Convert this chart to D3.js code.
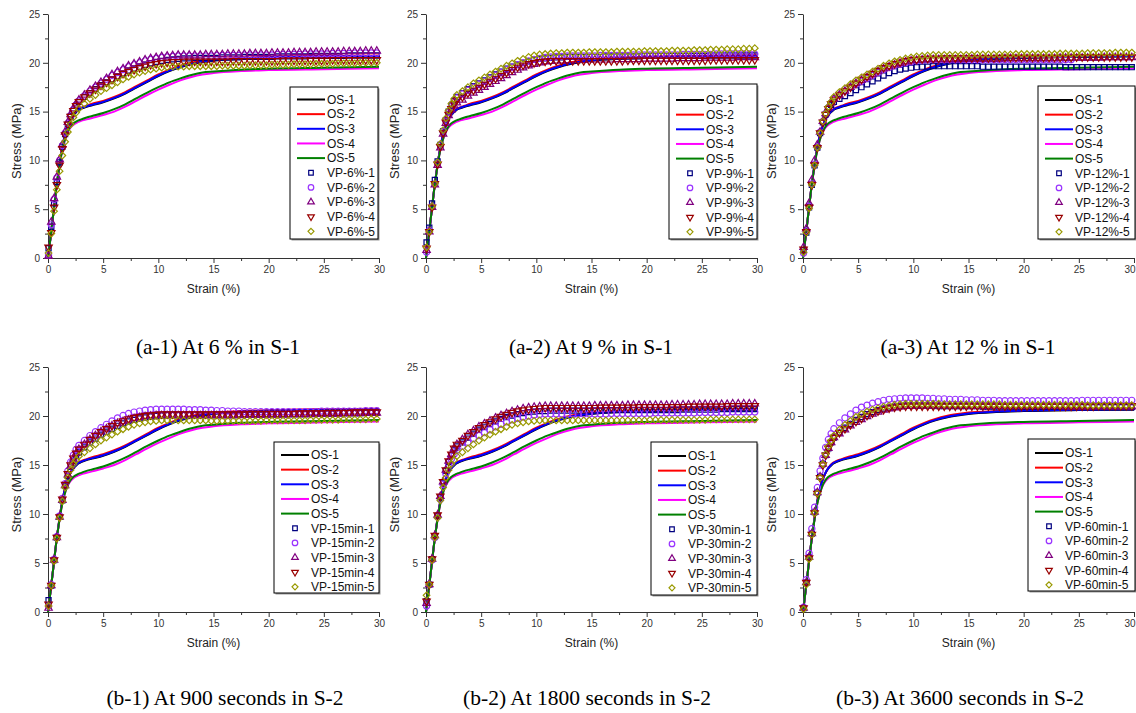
<!DOCTYPE html>
<html>
<head>
<meta charset="utf-8">
<script src="https://cdn.jsdelivr.net/npm/d3@7"></script>
<style>
  body { margin: 0; background: #fff; }
  svg { display: block; }
</style>
</head>
<body>
<script>
// ---- data ----
const xTicks = [0, 5, 10, 15, 20, 25, 30];
const yTicks = [0, 5, 10, 15, 20, 25];
const osNames = ["OS-1", "OS-2", "OS-3", "OS-4", "OS-5"];
const captions = [
  "(a-1) At 6 % in S-1", "(a-2) At 9 % in S-1", "(a-3) At 12 % in S-1",
  "(b-1) At 900 seconds in S-2", "(b-2) At 1800 seconds in S-2", "(b-3) At 3600 seconds in S-2"
];
const vpTags = ["6%", "9%", "12%", "15min", "30min", "60min"];

// original specimens (same curves in every panel)
const osStrain = [0, 0.25, 0.5, 0.75, 1, 1.25, 1.5, 1.75, 2, 2.25, 2.5, 2.75, 3, 3.5, 4, 5, 6, 7, 8, 9, 10, 11, 12, 13, 14, 15, 17.5, 20, 25, 30];
const os1 = [0, 2.3, 4.7, 7.1, 9.2, 11.0, 12.4, 13.4, 14.1, 14.6, 14.9, 15.15, 15.3, 15.5, 15.65, 15.95, 16.35, 16.85, 17.45, 18.05, 18.65, 19.15, 19.55, 19.85, 20.05, 20.2, 20.4, 20.5, 20.6, 20.65];
const os2 = [0, 2.3, 4.7, 7.1, 9.2, 11.0, 12.4, 13.4, 14.1, 14.6, 15.0, 15.25, 15.4, 15.6, 15.8, 16.1, 16.5, 17.0, 17.6, 18.2, 18.8, 19.3, 19.7, 20.0, 20.2, 20.35, 20.5, 20.6, 20.7, 20.75];
const os3 = [0, 2.3, 4.7, 7.1, 9.2, 11.0, 12.4, 13.4, 14.1, 14.6, 14.95, 15.2, 15.35, 15.55, 15.7, 16.0, 16.4, 16.9, 17.5, 18.1, 18.7, 19.2, 19.6, 19.9, 20.1, 20.25, 20.45, 20.55, 20.65, 20.7];
const os4 = [0, 2.3, 4.7, 7.1, 9.1, 10.8, 12.0, 12.8, 13.3, 13.6, 13.8, 13.95, 14.05, 14.2, 14.35, 14.65, 15.0, 15.5, 16.1, 16.7, 17.25, 17.75, 18.2, 18.55, 18.8, 18.95, 19.15, 19.25, 19.35, 19.45];
const os5 = [0, 2.3, 4.7, 7.1, 9.1, 10.8, 12.0, 12.85, 13.4, 13.75, 13.95, 14.1, 14.2, 14.4, 14.55, 14.85, 15.25, 15.75, 16.35, 16.95, 17.5, 18.0, 18.4, 18.75, 19.0, 19.1, 19.3, 19.4, 19.5, 19.6];
const osSeries = [os1, os2, os3, os4, os5];

// strain values of the VP symbols
const vpStrain = [0.05, 0.3, 0.55, 0.8, 1.05, 1.3, 1.55, 1.8, 2.05, 2.3, 2.55, 2.8,
  3.3, 3.8, 4.3, 4.8, 5.3, 5.8, 6.3, 6.8, 7.3, 7.8, 8.3, 8.8, 9.3, 9.8, 10.3, 10.8, 11.3, 11.8, 12.3, 12.8,
  13.3, 13.8, 14.3, 14.8, 15.3, 15.8, 16.3, 16.8, 17.3, 17.8, 18.3, 18.8, 19.3, 19.8, 20.3, 20.8, 21.3,
  21.8, 22.3, 22.8, 23.3, 23.8, 24.3, 24.8, 25.3, 25.8, 26.3, 26.8, 27.3, 27.8, 28.3, 28.8, 29.3, 29.8];

const vp6 = [
  [1.0, 3.2, 5.6, 7.8, 9.8, 11.4, 12.7, 13.7, 14.5, 15.1, 15.6, 16.0,
   16.5, 16.9, 17.3, 17.7, 18.0, 18.3, 18.6, 18.9, 19.2, 19.4, 19.6, 19.8, 19.95, 20.1, 20.2, 20.3, 20.35, 20.4, 20.45, 20.45,
   20.5, 20.5, 20.5, 20.5, 20.5, 20.55, 20.55, 20.55, 20.55, 20.6, 20.6, 20.6, 20.6, 20.6, 20.6, 20.65, 20.65,
   20.65, 20.65, 20.65, 20.65, 20.7, 20.7, 20.7, 20.7, 20.7, 20.7, 20.7, 20.75, 20.75, 20.75, 20.75, 20.75, 20.75],
  [0.3, 3.4, 6.0, 8.2, 10.0, 11.5, 12.8, 13.8, 14.6, 15.2, 15.7, 16.1,
   16.6, 17.1, 17.5, 17.9, 18.3, 18.7, 19.0, 19.3, 19.6, 19.8, 20.0, 20.2, 20.35, 20.45, 20.55, 20.6, 20.65, 20.7, 20.7, 20.7,
   20.7, 20.7, 20.7, 20.7, 20.75, 20.75, 20.75, 20.75, 20.75, 20.8, 20.8, 20.8, 20.8, 20.8, 20.8, 20.85, 20.85,
   20.85, 20.85, 20.85, 20.9, 20.9, 20.9, 20.9, 20.9, 20.95, 20.95, 20.95, 20.95, 21.0, 21.0, 21.0, 21.0, 21.0],
  [0.2, 3.7, 6.1, 8.3, 10.1, 11.6, 12.9, 13.9, 14.7, 15.3, 15.8, 16.2,
   16.7, 17.2, 17.6, 18.0, 18.4, 18.8, 19.1, 19.4, 19.7, 19.9, 20.1, 20.3, 20.45, 20.55, 20.65, 20.7, 20.75, 20.8, 20.8, 20.8,
   20.8, 20.8, 20.85, 20.85, 20.85, 20.85, 20.9, 20.9, 20.9, 20.9, 20.95, 20.95, 20.95, 20.95, 21.0, 21.0, 21.0,
   21.0, 21.05, 21.05, 21.05, 21.05, 21.1, 21.1, 21.1, 21.1, 21.1, 21.15, 21.15, 21.15, 21.15, 21.2, 21.2, 21.2],
  [1.1, 2.6, 5.2, 7.5, 9.5, 11.2, 12.6, 13.7, 14.5, 15.1, 15.6, 16.0,
   16.5, 16.9, 17.3, 17.7, 18.0, 18.3, 18.6, 18.9, 19.1, 19.3, 19.5, 19.65, 19.8, 19.9, 20.0, 20.05, 20.1, 20.1, 20.15, 20.15,
   20.15, 20.15, 20.15, 20.15, 20.15, 20.15, 20.15, 20.2, 20.2, 20.2, 20.2, 20.2, 20.2, 20.2, 20.2, 20.2, 20.25,
   20.25, 20.25, 20.25, 20.25, 20.25, 20.25, 20.25, 20.25, 20.3, 20.3, 20.3, 20.3, 20.3, 20.3, 20.3, 20.3, 20.3],
  [0.5, 2.5, 4.8, 7.0, 8.9, 10.5, 11.9, 12.9, 13.7, 14.4, 14.9, 15.3,
   15.8, 16.3, 16.7, 17.1, 17.4, 17.7, 18.0, 18.3, 18.55, 18.8, 19.0, 19.15, 19.3, 19.4, 19.5, 19.55, 19.6, 19.6, 19.6, 19.65,
   19.65, 19.65, 19.65, 19.65, 19.65, 19.7, 19.7, 19.7, 19.7, 19.7, 19.75, 19.75, 19.75, 19.75, 19.8, 19.8, 19.8,
   19.8, 19.85, 19.85, 19.85, 19.85, 19.9, 19.9, 19.9, 19.9, 19.95, 19.95, 19.95, 19.95, 20.0, 20.0, 20.0, 20.0]
];

const vp9 = [
  [1.6, 3.1, 5.6, 8.0, 9.9, 11.6, 13.0, 14.1, 15.0, 15.6, 16.1, 16.5,
   16.9, 17.3, 17.6, 17.9, 18.2, 18.5, 18.8, 19.1, 19.4, 19.6, 19.8, 20.0, 20.15, 20.3, 20.4, 20.45, 20.5, 20.55, 20.55, 20.6,
   20.6, 20.6, 20.6, 20.6, 20.6, 20.6, 20.65, 20.65, 20.65, 20.65, 20.65, 20.65, 20.65, 20.7, 20.7, 20.7, 20.7,
   20.7, 20.7, 20.7, 20.7, 20.7, 20.7, 20.7, 20.7, 20.75, 20.75, 20.75, 20.75, 20.75, 20.75, 20.75, 20.75, 20.75],
  [0.6, 2.8, 5.3, 7.6, 9.7, 11.6, 13.0, 14.1, 14.9, 15.5, 16.0, 16.4,
   16.8, 17.2, 17.5, 17.8, 18.1, 18.4, 18.7, 19.0, 19.3, 19.55, 19.8, 20.0, 20.2, 20.35, 20.45, 20.55, 20.6, 20.65, 20.65, 20.7,
   20.7, 20.7, 20.7, 20.7, 20.7, 20.75, 20.75, 20.75, 20.75, 20.75, 20.75, 20.8, 20.8, 20.8, 20.8, 20.8, 20.8,
   20.8, 20.8, 20.8, 20.85, 20.85, 20.85, 20.85, 20.85, 20.85, 20.9, 20.9, 20.9, 20.9, 20.9, 20.9, 20.9, 20.9],
  [0.8, 2.7, 5.2, 7.5, 9.5, 11.3, 12.7, 13.8, 14.6, 15.2, 15.6, 15.9,
   16.2, 16.6, 16.9, 17.2, 17.5, 17.8, 18.1, 18.4, 18.7, 19.0, 19.25, 19.5, 19.7, 19.85, 20.0, 20.1, 20.15, 20.2, 20.2, 20.25,
   20.25, 20.25, 20.25, 20.3, 20.3, 20.3, 20.3, 20.3, 20.35, 20.35, 20.35, 20.35, 20.35, 20.4, 20.4, 20.4, 20.4,
   20.4, 20.4, 20.45, 20.45, 20.45, 20.45, 20.45, 20.5, 20.5, 20.5, 20.5, 20.5, 20.5, 20.55, 20.55, 20.55, 20.55],
  [1.0, 2.7, 5.2, 7.6, 9.6, 11.4, 12.8, 13.9, 14.7, 15.3, 15.8, 16.2,
   16.5, 16.9, 17.2, 17.5, 17.8, 18.1, 18.4, 18.7, 19.0, 19.3, 19.55, 19.75, 19.9, 20.0, 20.1, 20.15, 20.2, 20.2, 20.2, 20.2,
   20.2, 20.2, 20.2, 20.2, 20.2, 20.2, 20.2, 20.2, 20.2, 20.2, 20.25, 20.25, 20.25, 20.25, 20.25, 20.25, 20.25,
   20.25, 20.25, 20.25, 20.25, 20.25, 20.25, 20.25, 20.25, 20.3, 20.3, 20.3, 20.3, 20.3, 20.3, 20.3, 20.3, 20.3],
  [1.1, 2.7, 5.3, 7.6, 9.8, 11.7, 13.1, 14.3, 15.1, 15.8, 16.3, 16.7,
   17.1, 17.5, 17.9, 18.2, 18.5, 18.8, 19.1, 19.4, 19.7, 19.95, 20.2, 20.4, 20.6, 20.75, 20.85, 20.9, 20.95, 21.0, 21.0, 21.05,
   21.05, 21.05, 21.05, 21.1, 21.1, 21.1, 21.1, 21.1, 21.15, 21.15, 21.15, 21.15, 21.15, 21.2, 21.2, 21.2, 21.2,
   21.2, 21.25, 21.25, 21.25, 21.25, 21.3, 21.3, 21.3, 21.35, 21.35, 21.35, 21.4, 21.4, 21.4, 21.45, 21.45, 21.5]
];

const vp12 = [
  [0.8, 2.6, 5.2, 7.5, 9.5, 11.3, 12.8, 13.9, 14.7, 15.3, 15.7, 16.0,
   16.3, 16.6, 16.9, 17.2, 17.5, 17.8, 18.1, 18.4, 18.7, 18.95, 19.15, 19.3, 19.4, 19.5, 19.55, 19.6, 19.6, 19.65, 19.65, 19.65,
   19.65, 19.65, 19.65, 19.65, 19.65, 19.65, 19.6, 19.6, 19.6, 19.6, 19.6, 19.6, 19.6, 19.6, 19.6, 19.6, 19.6,
   19.6, 19.6, 19.6, 19.6, 19.55, 19.55, 19.55, 19.55, 19.55, 19.55, 19.55, 19.55, 19.55, 19.55, 19.55, 19.55, 19.55],
  [0.5, 2.8, 5.3, 7.6, 9.6, 11.4, 12.9, 14.0, 14.8, 15.4, 15.9, 16.3,
   16.7, 17.1, 17.5, 17.8, 18.1, 18.4, 18.7, 19.0, 19.3, 19.5, 19.7, 19.85, 20.0, 20.1, 20.2, 20.25, 20.3, 20.3, 20.3, 20.3,
   20.3, 20.3, 20.3, 20.3, 20.3, 20.3, 20.3, 20.3, 20.3, 20.3, 20.3, 20.3, 20.3, 20.3, 20.3, 20.3, 20.3,
   20.3, 20.3, 20.3, 20.3, 20.3, 20.3],
  [1.1, 3.0, 5.6, 8.0, 10.0, 11.6, 12.9, 14.0, 14.8, 15.4, 15.9, 16.3,
   16.7, 17.1, 17.5, 17.9, 18.2, 18.5, 18.8, 19.1, 19.4, 19.6, 19.8, 19.95, 20.1, 20.2, 20.25, 20.3, 20.35, 20.35, 20.35, 20.35,
   20.35, 20.35, 20.35, 20.4, 20.4, 20.4, 20.4, 20.4, 20.4, 20.4, 20.45, 20.45, 20.45, 20.45, 20.45, 20.45, 20.45,
   20.45, 20.45, 20.45, 20.5, 20.5, 20.5, 20.5, 20.5, 20.5, 20.5, 20.5, 20.55, 20.55, 20.55, 20.55, 20.55, 20.55],
  [0.9, 2.7, 5.2, 7.5, 9.5, 11.3, 12.8, 13.9, 14.7, 15.3, 15.8, 16.2,
   16.7, 17.1, 17.5, 17.9, 18.3, 18.6, 18.9, 19.2, 19.5, 19.7, 19.9, 20.05, 20.2, 20.3, 20.35, 20.4, 20.45, 20.45, 20.45, 20.5,
   20.5, 20.5, 20.5, 20.5, 20.5, 20.5, 20.5, 20.5, 20.5, 20.55, 20.55, 20.55, 20.55, 20.55, 20.55, 20.55, 20.55,
   20.55, 20.55, 20.55, 20.55, 20.55, 20.55, 20.6, 20.6, 20.6, 20.6, 20.6, 20.6, 20.6, 20.6, 20.6, 20.6, 20.6],
  [0.6, 2.6, 5.1, 7.5, 9.5, 11.3, 12.8, 14.0, 14.8, 15.5, 16.0, 16.5,
   17.0, 17.4, 17.8, 18.2, 18.5, 18.8, 19.1, 19.4, 19.7, 19.95, 20.15, 20.3, 20.45, 20.55, 20.65, 20.7, 20.75, 20.8, 20.8, 20.8,
   20.8, 20.8, 20.8, 20.8, 20.8, 20.85, 20.85, 20.85, 20.85, 20.85, 20.85, 20.85, 20.9, 20.9, 20.9, 20.9, 20.9,
   20.9, 20.9, 20.9, 20.95, 20.95, 20.95, 20.95, 20.95, 21.0, 21.0, 21.0, 21.0, 21.0, 21.05, 21.05, 21.05, 21.05]
];

const vp15 = [
  [1.2, 2.7, 5.3, 7.6, 9.7, 11.4, 12.9, 13.9, 14.8, 15.4, 15.9, 16.3,
   16.8, 17.3, 17.7, 18.1, 18.4, 18.7, 19.0, 19.25, 19.45, 19.6, 19.75, 19.85, 19.95, 20.0, 20.05, 20.1, 20.1, 20.1, 20.1, 20.1,
   20.1, 20.1, 20.1, 20.1, 20.1, 20.1, 20.1, 20.1, 20.15, 20.15, 20.15, 20.15, 20.15, 20.15, 20.2, 20.2, 20.2,
   20.2, 20.2, 20.2, 20.2, 20.25, 20.25, 20.25, 20.25, 20.25, 20.3, 20.3, 20.3, 20.3, 20.3, 20.35, 20.35, 20.35],
  [0.6, 2.8, 5.4, 7.7, 9.8, 11.6, 13.1, 14.4, 15.3, 16.0, 16.6, 17.0,
   17.5, 18.0, 18.4, 18.8, 19.15, 19.5, 19.8, 20.05, 20.25, 20.4, 20.5, 20.6, 20.65, 20.7, 20.7, 20.7, 20.7, 20.7, 20.7, 20.65,
   20.65, 20.65, 20.6, 20.6, 20.55, 20.55, 20.5, 20.5, 20.5, 20.45, 20.45, 20.45, 20.45, 20.45, 20.45, 20.45, 20.45,
   20.45, 20.45, 20.45, 20.45, 20.45, 20.45, 20.5, 20.5, 20.5, 20.5, 20.5, 20.5, 20.5, 20.5, 20.55, 20.55, 20.55],
  [0.4, 2.7, 5.3, 7.6, 9.7, 11.4, 12.9, 14.0, 14.9, 15.6, 16.2, 16.6,
   17.1, 17.6, 18.0, 18.4, 18.7, 19.0, 19.25, 19.45, 19.6, 19.75, 19.85, 19.95, 20.0, 20.05, 20.05, 20.05, 20.05, 20.05, 20.05, 20.05,
   20.05, 20.05, 20.05, 20.05, 20.05, 20.05, 20.05, 20.05, 20.05, 20.1, 20.1, 20.1, 20.1, 20.1, 20.1, 20.1, 20.1,
   20.15, 20.15, 20.15, 20.15, 20.15, 20.2, 20.2, 20.2, 20.2, 20.2, 20.25, 20.25, 20.25, 20.25, 20.3, 20.3, 20.3],
  [0.8, 2.7, 5.3, 7.6, 9.7, 11.5, 13.0, 14.1, 15.0, 15.7, 16.2, 16.6,
   17.1, 17.6, 18.0, 18.4, 18.7, 19.0, 19.3, 19.5, 19.7, 19.85, 19.95, 20.05, 20.1, 20.15, 20.2, 20.2, 20.2, 20.2, 20.2, 20.2,
   20.2, 20.2, 20.2, 20.2, 20.2, 20.2, 20.2, 20.2, 20.2, 20.2, 20.25, 20.25, 20.25, 20.25, 20.25, 20.25, 20.25,
   20.25, 20.25, 20.3, 20.3, 20.3, 20.3, 20.3, 20.35, 20.35, 20.35, 20.35, 20.35, 20.4, 20.4, 20.4, 20.4, 20.4],
  [0.6, 2.7, 5.2, 7.5, 9.6, 11.3, 12.7, 13.7, 14.5, 15.1, 15.5, 15.9,
   16.3, 16.7, 17.1, 17.5, 17.8, 18.1, 18.4, 18.65, 18.9, 19.1, 19.25, 19.35, 19.45, 19.5, 19.55, 19.55, 19.55, 19.55, 19.55, 19.55,
   19.55, 19.55, 19.55, 19.5, 19.5, 19.5, 19.5, 19.5, 19.5, 19.5, 19.5, 19.5, 19.5, 19.55, 19.55, 19.55, 19.55,
   19.55, 19.55, 19.55, 19.55, 19.6, 19.6, 19.6, 19.6, 19.6, 19.6, 19.65, 19.65, 19.65, 19.65, 19.65, 19.7, 19.7]
];

const vp30 = [
  [1.1, 2.8, 5.4, 7.7, 9.8, 11.7, 13.2, 14.4, 15.3, 16.0, 16.5, 16.9,
   17.3, 17.8, 18.2, 18.6, 18.9, 19.2, 19.45, 19.7, 19.9, 20.05, 20.2, 20.3, 20.4, 20.45, 20.5, 20.5, 20.55, 20.55, 20.55, 20.55,
   20.55, 20.55, 20.55, 20.55, 20.55, 20.55, 20.6, 20.6, 20.6, 20.6, 20.6, 20.6, 20.6, 20.6, 20.6, 20.6, 20.6,
   20.6, 20.6, 20.6, 20.65, 20.65, 20.65, 20.65, 20.65, 20.65, 20.65, 20.7, 20.7, 20.7, 20.7, 20.7, 20.7, 20.7],
  [0.6, 2.8, 5.3, 7.6, 9.7, 11.5, 13.0, 14.1, 15.0, 15.6, 16.1, 16.5,
   16.9, 17.3, 17.7, 18.0, 18.3, 18.6, 18.9, 19.15, 19.4, 19.6, 19.75, 19.9, 20.0, 20.1, 20.15, 20.2, 20.2, 20.2, 20.2, 20.2,
   20.2, 20.2, 20.2, 20.2, 20.2, 20.2, 20.2, 20.25, 20.25, 20.25, 20.25, 20.25, 20.25, 20.25, 20.25, 20.3, 20.3,
   20.3, 20.3, 20.3, 20.3, 20.3, 20.3, 20.35, 20.35, 20.35, 20.35, 20.35, 20.35, 20.4, 20.4, 20.4, 20.4, 20.4],
  [0.9, 2.8, 5.4, 7.8, 9.9, 11.8, 13.3, 14.5, 15.4, 16.1, 16.7, 17.1,
   17.6, 18.1, 18.5, 18.9, 19.2, 19.5, 19.8, 20.05, 20.25, 20.45, 20.6, 20.75, 20.85, 20.9, 20.95, 21.0, 21.0, 21.0, 21.0, 21.0,
   21.0, 21.0, 21.0, 21.0, 21.05, 21.05, 21.05, 21.05, 21.05, 21.05, 21.1, 21.1, 21.1, 21.1, 21.1, 21.1, 21.1,
   21.1, 21.15, 21.15, 21.15, 21.15, 21.15, 21.2, 21.2, 21.2, 21.2, 21.2, 21.2, 21.25, 21.25, 21.25, 21.25, 21.25],
  [1.1, 2.8, 5.4, 7.8, 9.9, 11.8, 13.3, 14.5, 15.4, 16.1, 16.7, 17.1,
   17.5, 18.0, 18.4, 18.8, 19.1, 19.4, 19.7, 19.95, 20.15, 20.35, 20.5, 20.6, 20.7, 20.75, 20.8, 20.85, 20.85, 20.85, 20.85, 20.85,
   20.85, 20.85, 20.85, 20.85, 20.85, 20.9, 20.9, 20.9, 20.9, 20.9, 20.9, 20.9, 20.95, 20.95, 20.95, 20.95, 20.95,
   20.95, 20.95, 20.95, 20.95, 21.0, 21.0, 21.0, 21.0, 21.0, 21.0, 21.0, 21.05, 21.05, 21.05, 21.05, 21.05, 21.05],
  [1.7, 2.8, 5.3, 7.6, 9.6, 11.4, 12.7, 13.7, 14.5, 15.1, 15.5, 15.9,
   16.3, 16.7, 17.1, 17.5, 17.8, 18.1, 18.4, 18.65, 18.9, 19.1, 19.25, 19.35, 19.45, 19.5, 19.55, 19.55, 19.55, 19.55, 19.55, 19.55,
   19.55, 19.55, 19.55, 19.55, 19.55, 19.55, 19.55, 19.55, 19.55, 19.55, 19.55, 19.55, 19.55, 19.55, 19.6, 19.6, 19.6,
   19.6, 19.6, 19.6, 19.6, 19.6, 19.6, 19.6, 19.6, 19.65, 19.65, 19.65, 19.65, 19.65, 19.65, 19.65, 19.65, 19.65]
];

const vp60 = [
  [0.4, 3.0, 5.6, 8.0, 10.2, 12.2, 13.8, 15.1, 16.0, 16.7, 17.3, 17.8,
   18.3, 18.8, 19.2, 19.6, 19.9, 20.2, 20.4, 20.6, 20.75, 20.85, 20.95, 21.0, 21.05, 21.05, 21.05, 21.05, 21.05, 21.05, 21.0, 21.0,
   21.0, 21.0, 21.0, 21.0, 21.0, 21.0, 20.95, 20.95, 20.95, 20.95, 20.95, 20.95, 20.95, 20.95, 20.95, 20.95, 20.95,
   20.95, 20.95, 20.95, 20.95, 20.95, 20.9, 20.9, 20.9, 20.9, 20.9, 20.9, 20.9, 20.9, 20.9, 20.9, 20.9, 20.9],
  [0.5, 3.3, 6.0, 8.5, 10.7, 12.7, 14.4, 15.7, 16.8, 17.6, 18.2, 18.7,
   19.3, 19.8, 20.2, 20.6, 20.9, 21.1, 21.3, 21.45, 21.6, 21.7, 21.75, 21.8, 21.85, 21.85, 21.85, 21.85, 21.8, 21.8, 21.75, 21.75,
   21.7, 21.7, 21.7, 21.65, 21.65, 21.65, 21.6, 21.6, 21.6, 21.55, 21.55, 21.55, 21.55, 21.55, 21.55, 21.55, 21.55,
   21.55, 21.55, 21.55, 21.55, 21.55, 21.55, 21.55, 21.6, 21.6, 21.6, 21.6, 21.6, 21.6, 21.6, 21.6, 21.6, 21.6],
  [0.4, 3.0, 5.6, 8.0, 10.2, 12.2, 13.8, 15.1, 16.0, 16.7, 17.3, 17.8,
   18.2, 18.6, 19.0, 19.35, 19.65, 19.95, 20.2, 20.4, 20.6, 20.75, 20.85, 20.95, 21.0, 21.0, 21.05, 21.05, 21.05, 21.05, 21.05, 21.05,
   21.05, 21.05, 21.05, 21.05, 21.0, 21.0, 21.0, 21.0, 21.0, 21.0, 21.0, 21.0, 21.0, 21.0, 21.0, 21.0, 21.0,
   21.0, 21.0, 21.0, 21.0, 20.95, 20.95, 20.95, 20.95, 20.95, 20.95, 20.95, 20.95, 20.95, 20.95, 20.95, 20.95, 20.95],
  [0.4, 3.0, 5.5, 7.9, 10.1, 12.1, 13.7, 15.0, 16.0, 16.7, 17.3, 17.8,
   18.3, 18.7, 19.1, 19.45, 19.75, 20.05, 20.3, 20.5, 20.65, 20.8, 20.9, 20.95, 21.0, 21.0, 21.0, 21.0, 21.0, 21.0, 21.0, 21.0,
   21.0, 21.0, 21.0, 21.0, 21.0, 21.0, 21.0, 21.0, 21.0, 21.0, 21.0, 21.0, 21.0, 21.0, 21.0, 21.0, 21.0,
   21.0, 21.0, 21.0, 21.0, 21.0, 21.0, 21.0, 21.0, 21.0, 21.0, 21.05, 21.05, 21.05, 21.05, 21.05, 21.05, 21.05],
  [0.3, 2.8, 5.4, 7.9, 10.1, 12.1, 13.7, 15.1, 16.1, 16.9, 17.5, 18.0,
   18.6, 19.1, 19.5, 19.9, 20.2, 20.45, 20.65, 20.8, 20.95, 21.05, 21.15, 21.2, 21.25, 21.25, 21.25, 21.25, 21.25, 21.25, 21.25, 21.2,
   21.2, 21.2, 21.2, 21.2, 21.2, 21.2, 21.2, 21.2, 21.2, 21.2, 21.15, 21.15, 21.15, 21.15, 21.15, 21.15, 21.15,
   21.15, 21.15, 21.15, 21.15, 21.15, 21.15, 21.15, 21.15, 21.1, 21.1, 21.1, 21.1, 21.1, 21.1, 21.1, 21.1, 21.1]
];
const vpData = [vp6, vp9, vp12, vp15, vp30, vp60];

// ---- layout ----
const W = 1136, H = 713;
const svg = d3.select("body").append("svg").attr("width", W).attr("height", H);

const osColors = ["#000000", "#ff0000", "#0000ff", "#ff00ff", "#008000"];
const vpColors = ["#000080", "#9933ff", "#800080", "#990000", "#999900"];
const vpShapes = [d3.symbolSquare, d3.symbolCircle, d3.symbolTriangle, d3.symbolTriangle, d3.symbolDiamond2];
const vpSizes = [26, 30, 24, 24, 28];
const vpRot = [0, 0, 0, 180, 0];

const panelPos = [
  { left: 48, top: 14, bottom: 258, legend: { x: 290, y: 87, w: 88, h: 152, row0: 99.5 }, capX: 218, capY: 354 },
  { left: 426, top: 14, bottom: 258, legend: { x: 669, y: 84, w: 88, h: 155, row0: 100 }, capX: 591, capY: 354 },
  { left: 803, top: 14, bottom: 258, legend: { x: 1038, y: 86, w: 97, h: 153, row0: 100 }, capX: 968, capY: 354 },
  { left: 48, top: 367, bottom: 612, legend: { x: 274, y: 442, w: 105, h: 151, row0: 455 }, capX: 225, capY: 705 },
  { left: 426, top: 367, bottom: 612, legend: { x: 651, y: 442, w: 106, h: 153, row0: 456 }, capX: 587, capY: 705 },
  { left: 803, top: 367, bottom: 612, legend: { x: 1028, y: 439, w: 107, h: 152, row0: 453 }, capX: 960, capY: 705 }
];
const plotW = 331;
const rowGap = 14.65;
const sans = "Liberation Sans, Arial, sans-serif";

panelPos.forEach((p, pi) => {
  const g = svg.append("g");
  const x = d3.scaleLinear().domain([0, 30]).range([p.left, p.left + plotW]);
  const y = d3.scaleLinear().domain([0, 25]).range([p.bottom, p.top]);

  // minor ticks
  g.append("g")
    .attr("transform", `translate(0,${p.bottom})`)
    .call(d3.axisBottom(x).tickValues(d3.range(2.5, 30, 5)).tickSize(3).tickSizeOuter(0).tickFormat(""))
    .call(a => a.select(".domain").remove());
  g.append("g")
    .attr("transform", `translate(${p.left},0)`)
    .call(d3.axisLeft(y).tickValues(d3.range(2.5, 25, 5)).tickSize(3).tickSizeOuter(0).tickFormat(""))
    .call(a => a.select(".domain").remove());

  // major axes
  const xa = g.append("g")
    .attr("transform", `translate(0,${p.bottom})`)
    .call(d3.axisBottom(x).tickValues(xTicks).tickSize(5).tickSizeOuter(0).tickPadding(3));
  const ya = g.append("g")
    .attr("transform", `translate(${p.left},0)`)
    .call(d3.axisLeft(y).tickValues(yTicks).tickSize(5).tickSizeOuter(0).tickPadding(3));
  [xa, ya].forEach(a => {
    a.selectAll("text").attr("font-family", sans).attr("font-size", 10).attr("fill", "#333");
  });
  // keep the last label inside the page on the right-hand panels
  if (p.left + plotW + 6 > W) {
    xa.selectAll(".tick").filter(d => d === 30).select("text").attr("text-anchor", "end").attr("dx", 1);
  }
  g.selectAll(".domain, .tick line").attr("stroke", "#333").attr("stroke-width", 1);

  // axis titles
  g.append("text")
    .attr("x", p.left + plotW / 2).attr("y", p.bottom + 35)
    .attr("text-anchor", "middle")
    .attr("font-family", sans).attr("font-size", 12).attr("fill", "#222")
    .text("Strain (%)");
  g.append("text")
    .attr("transform", `translate(${p.left - 27},${(p.top + p.bottom) / 2 + 5}) rotate(-90)`)
    .attr("text-anchor", "middle")
    .attr("font-family", sans).attr("font-size", 13).attr("fill", "#222")
    .text("Stress (MPa)");

  // OS lines
  const line = d3.line().x(d => x(d[0])).y(d => y(d[1])).curve(d3.curveMonotoneX);
  osSeries.forEach((s, i) => {
    g.append("path")
      .datum(s.map((v, k) => [osStrain[k], v]))
      .attr("d", line)
      .attr("fill", "none")
      .attr("stroke", osColors[i])
      .attr("stroke-width", 2);
  });

  // VP symbols
  vpData[pi].forEach((s, i) => {
    const sym = d3.symbol().type(vpShapes[i]).size(vpSizes[i]);
    g.append("g").selectAll("path")
      .data(s.map((v, k) => [vpStrain[k], v]))
      .join("path")
      .attr("d", sym)
      .attr("transform", d => `translate(${x(d[0])},${y(d[1])}) rotate(${vpRot[i]})`)
      .attr("fill", "none")
      .attr("stroke", vpColors[i])
      .attr("stroke-width", 1.2);
  });

  // legend
  const L = p.legend;
  const lg = g.append("g");
  lg.append("rect")
    .attr("x", L.x + 1.5).attr("y", L.y + 1.5).attr("width", L.w).attr("height", L.h)
    .attr("fill", "#999");
  lg.append("rect")
    .attr("x", L.x).attr("y", L.y).attr("width", L.w).attr("height", L.h)
    .attr("fill", "#fff").attr("stroke", "#000").attr("stroke-width", 1);
  const labels = osNames.concat(d3.range(1, 6).map(k => `VP-${vpTags[pi]}-${k}`));
  labels.forEach((lab, k) => {
    const ry = L.row0 + k * rowGap;
    if (k < 5) {
      lg.append("line")
        .attr("x1", L.x + 7).attr("x2", L.x + 35).attr("y1", ry).attr("y2", ry)
        .attr("stroke", osColors[k]).attr("stroke-width", 2);
    } else {
      const i = k - 5;
      lg.append("path")
        .attr("d", d3.symbol().type(vpShapes[i]).size(vpSizes[i] * 0.8))
        .attr("transform", `translate(${L.x + 21},${ry}) rotate(${vpRot[i]})`)
        .attr("fill", "none").attr("stroke", vpColors[i]).attr("stroke-width", 1.2);
    }
    lg.append("text")
      .attr("x", L.x + 37).attr("y", ry).attr("dy", "0.36em")
      .attr("font-family", sans).attr("font-size", 12).attr("fill", "#111")
      .text(lab);
  });

  // caption
  svg.append("text")
    .attr("x", p.capX).attr("y", p.capY)
    .attr("text-anchor", "middle")
    .attr("font-family", "Liberation Serif, Times New Roman, serif").attr("font-size", 21.5).attr("fill", "#000")
    .text(captions[pi]);
});
</script>
</body>
</html>
